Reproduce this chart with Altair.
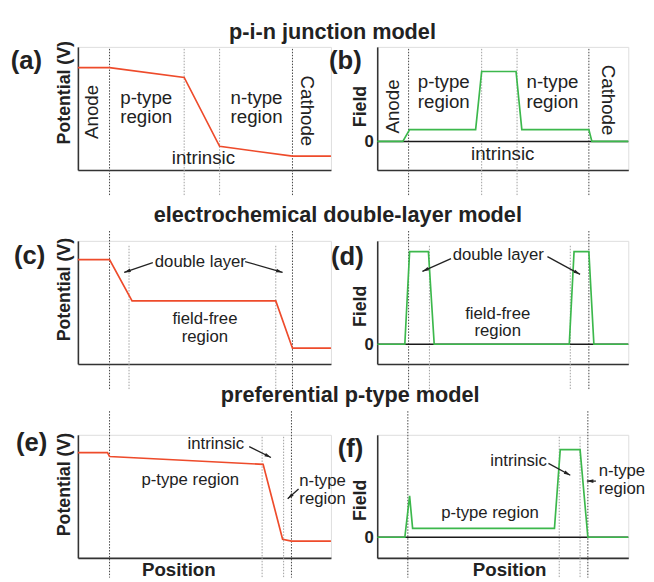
import math
import altair as alt
import pandas as pd

FONT = "Liberation Sans"
RED = "#ee4b2b"
GREEN = "#3cb84c"
INK = "#222222"
AXIS = "#333333"
DOT_DARK = "#444444"
DOT_LIGHT = "#a0a0a0"

WL, WR, H = 257, 255, 125
PX_Y = H / 12.5

# ---------------- data ----------------
# row titles
ROW_TITLES = ["p-i-n junction model", "electrochemical double-layer model", "preferential p-type model"]
ROW_TITLE_X = [100.6, 102.7, 107.6]
ROW_TITLE_Y = [14.05, 15.15, 16.55]

# (a) p-i-n potential
A_X = [0, 12.5, 42.0, 56.0, 84.8, 100]
A_Y = [10.4, 10.4, 9.4, 2.4, 1.4, 1.4]
A_DASH_X = [12.5, 42.0, 56.0, 84.8]
A_DASH_DARK = [1, 0, 0, 1]
A_DASH_TOP = [12.3, 12.3, 12.3, 12.3]
A_TXT = ["p-type", "region", "n-type", "region", "intrinsic"]
A_TX = [27.0, 27.0, 70.6, 70.6, 49.6]
A_TY = [7.35, 5.35, 7.35, 5.35, 1.2]
A_ROT = ["Anode", "Cathode"]
A_RX = [5.8, 90.7]
A_RY = [5.9, 6.0]
A_RANG = [270, 90]

# (b) p-i-n field
B_X = [0, 10.2, 12.9, 39.2, 41.6, 55.3, 57.6, 84.3, 85.5, 100]
B_Y = [0, 0, 1.2, 1.2, 7.1, 7.1, 1.2, 1.2, 0, 0]
B_DASH_X = [12.5, 41.6, 55.7, 84.3]
B_DASH_DARK = [1, 0, 0, 1]
B_DASH_TOP = [9.4, 9.4, 9.4, 9.4]
B_TXT = ["p-type", "region", "n-type", "region", "intrinsic"]
B_TX = [26.5, 26.5, 69.8, 69.8, 50.0]
B_TY = [6.0, 4.0, 6.0, 4.0, -1.3]
B_ROT = ["Anode", "Cathode"]
B_RX = [6.5, 91.8]
B_RY = [3.55, 4.2]
B_RANG = [270, 90]

# (c) double-layer potential
C_X = [0, 12.5, 21.4, 78.2, 84.8, 100]
C_Y = [10.6, 10.6, 6.4, 6.4, 1.6, 1.6]
C_DASH_X = [12.5, 20.2, 78.2, 84.8]
C_DASH_DARK = [1, 0, 0, 1]
C_DASH_TOP = [13.5, 12.0, 12.0, 13.5]
C_TXT = ["double layer", "field-free", "region"]
C_TX = [48.4, 50.2, 50.2]
C_TY = [10.3, 4.6, 2.75]
C_ARROWS = [(29.6, 10.3, 18.3, 9.3), (66.1, 10.4, 80.9, 9.3)]

# (d) double-layer field
D_X = [0, 11.0, 12.9, 20.4, 22.7, 76.5, 78.4, 84.3, 86.3, 100]
D_Y = [0, 0, 9.4, 9.4, 0, 0, 9.4, 9.4, 0, 0]
D_DASH_X = [12.5, 20.8, 76.9, 84.3]
D_DASH_DARK = [1, 0, 0, 1]
D_DASH_TOP = [11.5, 10.0, 10.0, 11.5]
D_TXT = ["double layer", "field-free", "region"]
D_TX = [48.2, 48.0, 48.0]
D_TY = [9.05, 3.1, 1.3]
D_ARROWS = [(29.4, 8.7, 18.0, 7.4), (67.8, 8.9, 80.8, 7.1)]

# (e) preferential p-type potential
E_X = [0, 11.7, 12.5, 73.2, 80.9, 84.4, 100]
E_Y = [10.7, 10.7, 10.3, 9.5, 1.9, 1.7, 1.7]
E_DASH_X = [12.5, 72.8, 81.3, 84.4]
E_DASH_DARK = [1, 0, 0, 1]
E_DASH_TOP = [14.9, 12.3, 12.3, 14.9]
E_TXT = ["intrinsic", "p-type region"]
E_TX = [54.5, 44.4]
E_TY = [11.6, 7.9]
E_LTXT = ["n-type", "region"]
E_LX = [87.5, 87.5]
E_LY = [7.8, 6.0]
E_ARROWS = [(67.7, 11.3, 76.3, 10.2), (87.2, 7.0, 82.9, 6.0)]

# (f) preferential p-type field
F_X = [0, 11.0, 12.9, 14.1, 70.6, 72.9, 80.8, 83.9, 100]
F_Y = [0, 0, 4.2, 0.9, 0.9, 8.9, 8.9, 0, 0]
F_DASH_X = [12.2, 72.5, 80.8, 83.9]
F_DASH_DARK = [1, 0, 0, 1]
F_DASH_TOP = [12.8, 10.2, 10.2, 12.8]
F_TXT = ["intrinsic", "p-type region"]
F_TX = [56.3, 44.9]
F_TY = [7.7, 2.5]
F_LTXT = ["n-type", "region"]
F_LX = [88.2, 88.2]
F_LY = [6.75, 4.9]
F_ARROWS = [(68.2, 7.5, 76.9, 6.3), (87.1, 5.7, 83.5, 5.7)]

# panel letters
LABELS = ["(a)", "(b)", "(c)", "(d)", "(e)", "(f)"]
LABEL_X = [-26.5, -19.2, -25.3, -18.4, -24.5, -15.7]
LABEL_Y = [11.1, 8.2, 11.0, 8.9, 11.7, 8.9]

ARROW_PATH = "M0,0L0.6,2.2L-0.6,2.2Z"


def panel(width, ydom, xs, ys, color, dash_x, dash_dark, dash_top, dash_lo,
          txt, tx, ty, fs, field, ytitle_y, idx,
          rot=None, ltxt=None, arrows=None, xtitle_x=None, row=None):
    xsc = alt.Scale(domain=[0, 100], nice=False, zero=False)
    ysc = alt.Scale(domain=ydom, nice=False, zero=False)
    xkw = dict(domain=True, domainColor=AXIS, domainWidth=1.6, ticks=False,
               labels=False, grid=False, title=None)
    if xtitle_x is not None:
        xkw.update(title="Position", titleFont=FONT, titleFontSize=19,
                   titleFontWeight="bold", titleColor=INK, titleX=xtitle_x,
                   titleY=3, titleBaseline="top", titleAlign="center")
    xax = alt.Axis(**xkw)
    ykw = dict(domain=True, domainColor=AXIS, domainWidth=1.6, grid=False,
               titleFont=FONT, titleFontSize=18, titleFontWeight="bold",
               titleColor=INK, titleY=ytitle_y, titleAlign="center",
               titleAngle=270, titleBaseline="bottom")
    if field:
        ykw.update(title="Field", values=[0], ticks=False, tickSize=0,
                   labels=True, labelFont=FONT, labelFontSize=17,
                   labelFontWeight="bold", labelColor=INK, labelPadding=4,
                   titleX=-8)
    else:
        ykw.update(title="Potential (V)", ticks=False, labels=False, titleX=-5)
    yax = alt.Axis(**ykw)

    X = lambda f="x": alt.X(f"{f}:Q", scale=xsc, axis=xax)
    Y = lambda f="y": alt.Y(f"{f}:Q", scale=ysc, axis=yax)

    layers = []
    dd = pd.DataFrame({"x": dash_x, "c": [DOT_DARK if d else DOT_LIGHT for d in dash_dark],
                       "y": dash_top, "y2": [dash_lo] * len(dash_x)})
    layers.append(alt.Chart(dd).mark_rule(strokeDash=[1.5, 1.5], strokeWidth=1).encode(
        x=X(), y=Y(), y2="y2:Q", color=alt.Color("c:N", scale=None)))
    if field:
        zd = pd.DataFrame({"x": [xs[0]], "x2": [xs[-1]], "y": [0]})
        layers.append(alt.Chart(zd).mark_rule(color="#1a1a1a", strokeWidth=1.6).encode(
            x=X(), x2="x2:Q", y=Y()))
    cd = pd.DataFrame({"x": xs, "y": ys, "o": list(range(len(xs)))})
    layers.append(alt.Chart(cd).mark_line(color=color, strokeWidth=1.7).encode(
        x=X(), y=Y(), order="o:Q"))
    td = pd.DataFrame({"x": tx, "y": ty, "t": txt})
    layers.append(alt.Chart(td).mark_text(font=FONT, fontSize=fs, color=INK,
                                          align="center", baseline="middle").encode(
        x=X(), y=Y(), text="t:N"))
    if rot:
        rd = pd.DataFrame({"x": rot[1], "y": rot[2], "t": rot[0], "a": rot[3]})
        layers.append(alt.Chart(rd).mark_text(font=FONT, fontSize=19, color=INK,
                                              align="center", baseline="middle").encode(
            x=X(), y=Y(), text="t:N", angle=alt.Angle("a:Q", scale=None)))
    if ltxt:
        ld = pd.DataFrame({"x": ltxt[1], "y": ltxt[2], "t": ltxt[0]})
        layers.append(alt.Chart(ld).mark_text(font=FONT, fontSize=fs, color=INK,
                                              align="left", baseline="middle").encode(
            x=X(), y=Y(), text="t:N"))
    if arrows:
        rows = []
        for (x1, y1, x2, y2) in arrows:
            dxp = (x2 - x1) * width / 100.0
            dyp = -(y2 - y1) * PX_Y
            ang = math.degrees(math.atan2(dxp, -dyp)) % 360
            rows.append({"x": x1, "y": y1, "x2": x2, "y2": y2, "a": ang})
        ad = pd.DataFrame(rows)
        layers.append(alt.Chart(ad).mark_rule(color=INK, strokeWidth=1.3).encode(
            x=X(), y=Y(), x2="x2:Q", y2="y2:Q"))
        layers.append(alt.Chart(ad).mark_point(shape=ARROW_PATH, filled=True, size=36,
                                               color=INK, opacity=1).encode(
            x=X("x2"), y=Y("y2"), angle=alt.Angle("a:Q", scale=None)))
    pl = pd.DataFrame({"x": [LABEL_X[idx]], "y": [LABEL_Y[idx]], "t": [LABELS[idx]]})
    layers.append(alt.Chart(pl).mark_text(font=FONT, fontSize=26, fontWeight="bold",
                                          color=INK, align="left", baseline="middle").encode(
        x=X(), y=Y(), text="t:N"))
    if row is not None:
        rt = pd.DataFrame({"x": [ROW_TITLE_X[row]], "y": [ROW_TITLE_Y[row]],
                           "t": [ROW_TITLES[row]]})
        layers.append(alt.Chart(rt).mark_text(font=FONT, fontSize=22, fontWeight="bold",
                                              color=INK, align="center",
                                              baseline="middle").encode(
            x=X(), y=Y(), text="t:N"))
    return alt.layer(*layers).properties(width=width, height=H)


POT = [0, 12.5]
pa = panel(WL, POT, A_X, A_Y, RED, A_DASH_X, A_DASH_DARK, A_DASH_TOP, -2.7,
           A_TXT, A_TX, A_TY, 19, False, 46, 0, rot=(A_ROT, A_RX, A_RY, A_RANG), row=0)
pb = panel(WR, [-2.9, 9.6], B_X, B_Y, GREEN, B_DASH_X, B_DASH_DARK, B_DASH_TOP, -5.6,
           B_TXT, B_TX, B_TY, 19, True, 60, 1, rot=(B_ROT, B_RX, B_RY, B_RANG))
pc = panel(WL, POT, C_X, C_Y, RED, C_DASH_X, C_DASH_DARK, C_DASH_TOP, -2.7,
           C_TXT, C_TX, C_TY, 17, False, 49, 2, arrows=C_ARROWS, row=1)
pd_ = panel(WR, [-2.0, 10.5], D_X, D_Y, GREEN, D_DASH_X, D_DASH_DARK, D_DASH_TOP, -4.7,
            D_TXT, D_TX, D_TY, 17, True, 66, 3, arrows=D_ARROWS)
pe = panel(WL, POT, E_X, E_Y, RED, E_DASH_X, E_DASH_DARK, E_DASH_TOP, -2.0,
           E_TXT, E_TX, E_TY, 17, False, 50, 4, ltxt=(E_LTXT, E_LX, E_LY),
           arrows=E_ARROWS, xtitle_x=102, row=2)
pf = panel(WR, [-2.1, 10.4], F_X, F_Y, GREEN, F_DASH_X, F_DASH_DARK, F_DASH_TOP, -4.1,
           F_TXT, F_TX, F_TY, 17, True, 66, 5, ltxt=(F_LTXT, F_LX, F_LY),
           arrows=F_ARROWS, xtitle_x=134)

chart = alt.concat(pa, pb, pc, pd_, pe, pf, columns=2, bounds="flush",
                   spacing={"row": 72, "column": 47}).properties(
    padding={"left": 2, "top": 7, "right": 0, "bottom": 0}
).configure_view(stroke=None).configure(background="white")

chart.save("out.html", embed_options={"renderer": "svg", "actions": False})
